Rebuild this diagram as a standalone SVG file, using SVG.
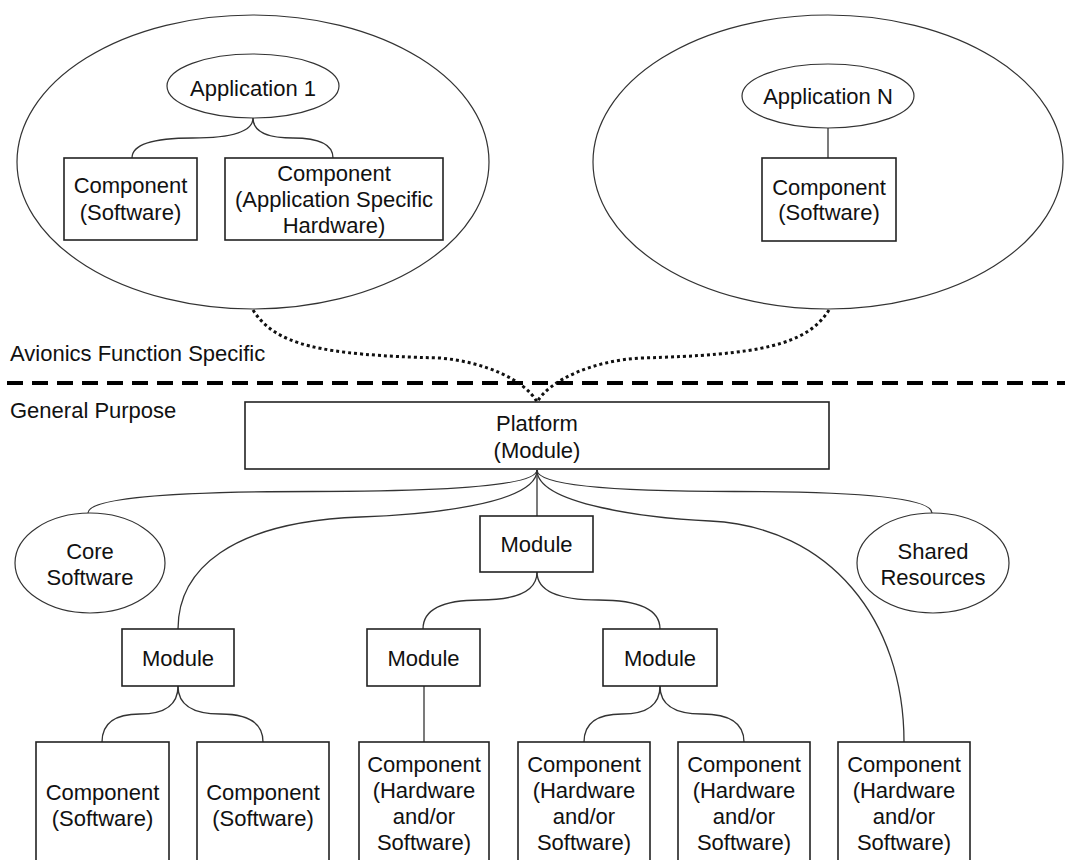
<svg xmlns="http://www.w3.org/2000/svg" width="1065" height="860" viewBox="0 0 1065 860">
<style>
  text { font-family: "Liberation Sans", Arial, sans-serif; font-size: 22px; fill: #111; text-anchor: middle; }
  .lbl { text-anchor: start; }
  .box { fill: #fff; stroke: #222; stroke-width: 1.6; }
  .ell { fill: #fff; stroke: #333; stroke-width: 1.2; }
  .big { fill: none; stroke: #333; stroke-width: 1.2; }
  .con { fill: none; stroke: #333; stroke-width: 1.3; }
  .dot { fill: none; stroke: #111; stroke-width: 3; stroke-dasharray: 3 3; }
  .dash { fill: none; stroke: #000; stroke-width: 4; stroke-dasharray: 16 9; }
</style>
<rect width="1065" height="860" fill="#fff"/>

<g id="connectors">
  <path class="dot" d="M253,310 C275,345 320,355 440,358 C485,362 525,380 537,402"/>
  <path class="dot" d="M829,310 C807,345 760,355 640,358 C592,361 550,380 537,402"/>
  <path class="con" d="M253,118 Q253,138 192.5,138 T132,158"/>
  <path class="con" d="M253,118 Q253,138 293,138 T333,158"/>
  <path class="con" d="M828,128 L828,158"/>
  <path class="con" d="M537,470 Q537,491.5 312.5,491.5 T88,513"/>
  <path class="con" d="M537,470 Q537,491.5 734.5,491.5 T932,513"/>
  <path class="con" d="M537,470 L537,516"/>
  <path class="con" d="M537,470 C537,505 420,515 360,517 C230,522 178,570 178,629"/>
  <path class="con" d="M537,470 C537,505 650,518 710,521 C830,527 904,620 904,742"/>
  <path class="con" d="M537,572 Q537,600 480,600 T423,629"/>
  <path class="con" d="M537,572 Q537,600 598.5,600 T660,629"/>
  <path class="con" d="M178,686 Q178,714 140,714 T102,742"/>
  <path class="con" d="M178,686 Q178,714 220.5,714 T263,742"/>
  <path class="con" d="M424,686 L424,742"/>
  <path class="con" d="M660,686 Q660,714 622,714 T584,742"/>
  <path class="con" d="M660,686 Q660,714 702,714 T744,742"/>
</g>

<g id="app1-domain">
  <ellipse class="big" cx="253" cy="162" rx="236" ry="147"/>
</g>
<g id="appN-domain">
  <ellipse class="big" cx="828" cy="162" rx="235" ry="147"/>
</g>

<g id="application-1">
  <ellipse class="ell" cx="253" cy="86" rx="86" ry="32"/>
  <text x="253" y="96">Application 1</text>
</g>
<g id="app1-comp-sw">
  <rect class="box" x="64" y="158" width="133" height="82"/>
  <text x="130.5" y="193">Component</text>
  <text x="130.5" y="220">(Software)</text>
</g>
<g id="app1-comp-hw">
  <rect class="box" x="225" y="158" width="218" height="82"/>
  <text x="334" y="181">Component</text>
  <text x="334" y="207">(Application Specific</text>
  <text x="334" y="233">Hardware)</text>
</g>

<g id="application-n">
  <ellipse class="ell" cx="828" cy="96" rx="86" ry="32"/>
  <text x="828" y="104">Application N</text>
</g>
<g id="appN-comp-sw">
  <rect class="box" x="762" y="158" width="134" height="83"/>
  <text x="829" y="195">Component</text>
  <text x="829" y="220">(Software)</text>
</g>

<g id="divider">
  <line class="dash" x1="7" y1="383" x2="1065" y2="383"/>
  <text class="lbl" x="10" y="361">Avionics Function Specific</text>
  <text class="lbl" x="10" y="418">General Purpose</text>
</g>

<g id="platform">
  <rect class="box" x="245" y="402" width="584" height="67"/>
  <text x="537" y="431">Platform</text>
  <text x="537" y="458">(Module)</text>
</g>

<g id="core-software">
  <ellipse class="ell" cx="90" cy="563" rx="75" ry="50"/>
  <text x="90" y="559">Core</text>
  <text x="90" y="585">Software</text>
</g>
<g id="shared-resources">
  <ellipse class="ell" cx="933" cy="563" rx="76" ry="50"/>
  <text x="933" y="559">Shared</text>
  <text x="933" y="585">Resources</text>
</g>

<g id="module-mid">
  <rect class="box" x="480" y="516" width="113" height="56"/>
  <text x="536.5" y="552">Module</text>
</g>
<g id="module-left">
  <rect class="box" x="122" y="629" width="112" height="57"/>
  <text x="178" y="666">Module</text>
</g>
<g id="module-2">
  <rect class="box" x="367" y="629" width="113" height="57"/>
  <text x="423.5" y="666">Module</text>
</g>
<g id="module-3">
  <rect class="box" x="603" y="629" width="114" height="57"/>
  <text x="660" y="666">Module</text>
</g>

<g id="comp-b1">
  <rect class="box" x="36" y="742" width="133" height="130"/>
  <text x="102.5" y="800">Component</text>
  <text x="102.5" y="826">(Software)</text>
</g>
<g id="comp-b2">
  <rect class="box" x="197" y="742" width="132" height="130"/>
  <text x="263" y="800">Component</text>
  <text x="263" y="826">(Software)</text>
</g>
<g id="comp-b3">
  <rect class="box" x="359" y="742" width="130" height="130"/>
  <text x="424" y="772">Component</text>
  <text x="424" y="798">(Hardware</text>
  <text x="424" y="824">and/or</text>
  <text x="424" y="850">Software)</text>
</g>
<g id="comp-b4">
  <rect class="box" x="518" y="742" width="132" height="130"/>
  <text x="584" y="772">Component</text>
  <text x="584" y="798">(Hardware</text>
  <text x="584" y="824">and/or</text>
  <text x="584" y="850">Software)</text>
</g>
<g id="comp-b5">
  <rect class="box" x="678" y="742" width="132" height="130"/>
  <text x="744" y="772">Component</text>
  <text x="744" y="798">(Hardware</text>
  <text x="744" y="824">and/or</text>
  <text x="744" y="850">Software)</text>
</g>
<g id="comp-b6">
  <rect class="box" x="838" y="742" width="132" height="130"/>
  <text x="904" y="772">Component</text>
  <text x="904" y="798">(Hardware</text>
  <text x="904" y="824">and/or</text>
  <text x="904" y="850">Software)</text>
</g>
</svg>
